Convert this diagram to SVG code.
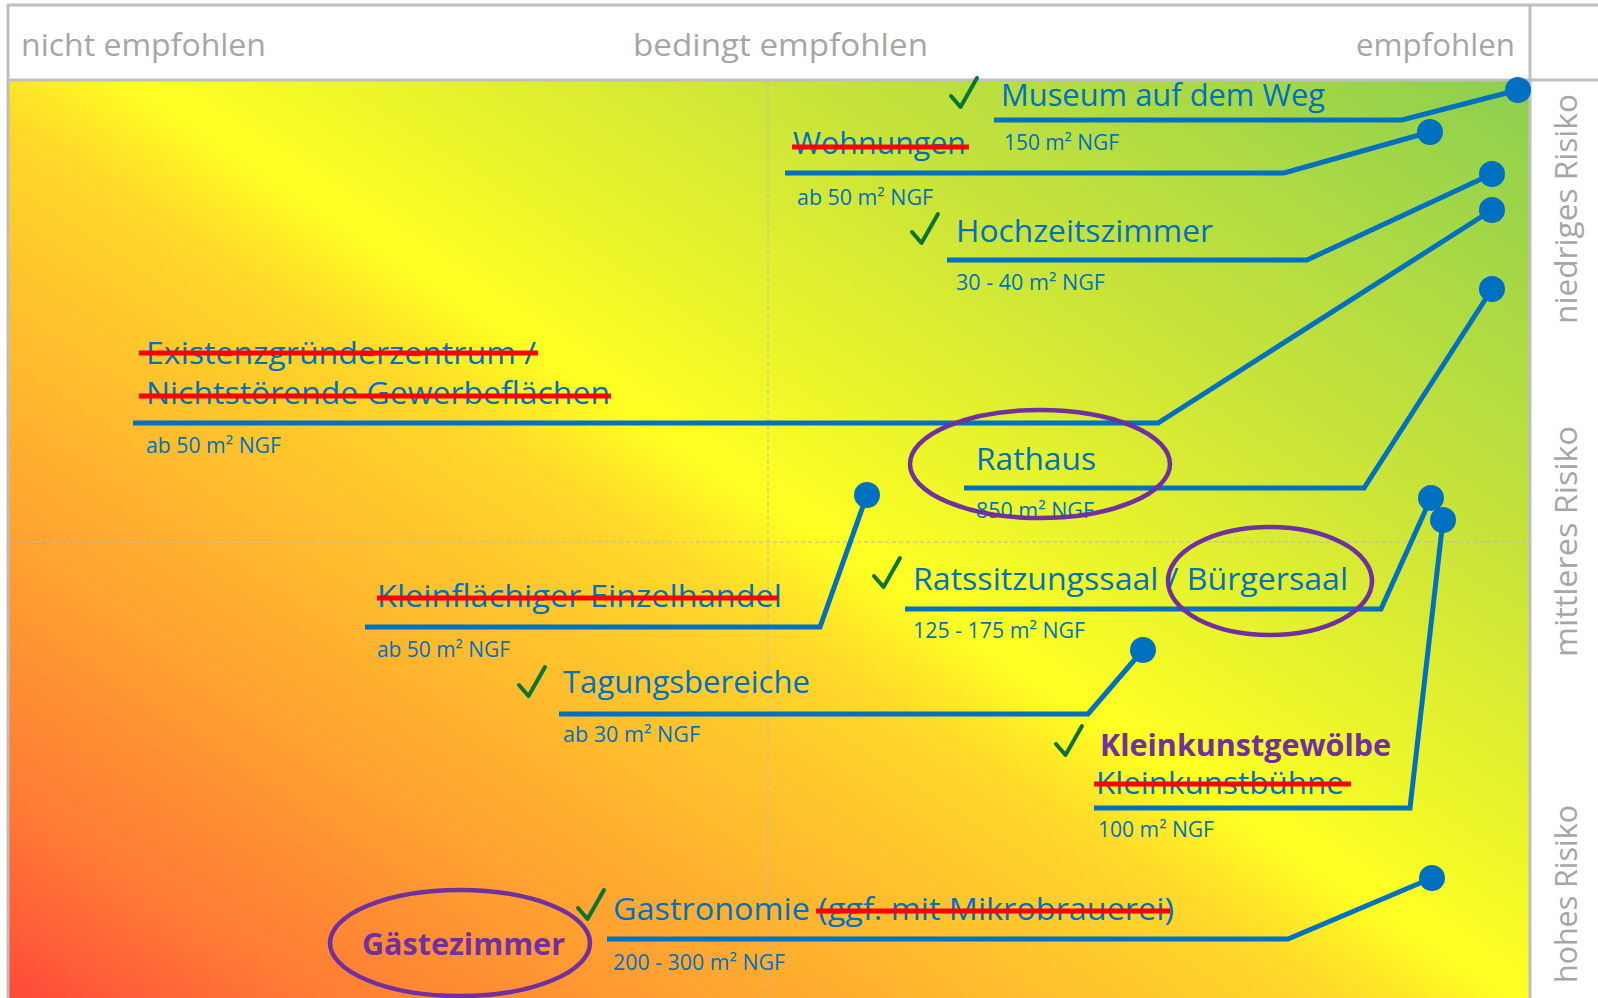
<svg xmlns="http://www.w3.org/2000/svg" xmlns:xlink="http://www.w3.org/1999/xlink" width="1598" height="998" viewBox="0 0 1598 998">
  <defs>
    <linearGradient id="bg" gradientUnits="userSpaceOnUse" x1="339" y1="1216" x2="1223" y2="-120">
      <stop offset="0" stop-color="#ff4a3a"/>
      <stop offset="0.1" stop-color="#ff7a35"/>
      <stop offset="0.25" stop-color="#ffa530"/>
      <stop offset="0.455" stop-color="#ffd82a"/>
      <stop offset="0.52" stop-color="#ffff22"/>
      <stop offset="0.75" stop-color="#c8e33a"/>
      <stop offset="1" stop-color="#8ccf4f"/>
    </linearGradient>
    <path id="chk" d="M0,18 L9.5,29 L26,0" fill="none" stroke="#0a7436" stroke-width="4" stroke-linecap="round" stroke-linejoin="round"/>
  </defs>
  <style>
    .hdr { font-family: "Open Sans", "Noto Sans", sans-serif; font-size: 31px; fill: #a6a6a6; }
    .lbl { font-family: "Open Sans", "Noto Sans", sans-serif; font-size: 31px; fill: #0070c0; }
    .sub { font-family: "Open Sans", "Noto Sans", sans-serif; font-size: 21px; fill: #0070c0; }
    .bold { font-family: "Open Sans", "Noto Sans", sans-serif; font-size: 31px; font-weight: bold; fill: #7030a0; }
    .frame { stroke: #bfbfbf; stroke-width: 3; fill: none; }
    .guide { stroke: #b8b8b8; stroke-width: 1; stroke-dasharray: 4 3; fill: none; }
    .con { stroke: #0070c0; stroke-width: 5; fill: none; stroke-linejoin: miter; }
    .dot { fill: #0070c0; }
    .strike { stroke: #ff0000; stroke-width: 5; }
    .oval { stroke: #7030a0; stroke-width: 4.5; fill: none; }
  </style>

  <rect x="0" y="0" width="1598" height="998" fill="#ffffff"/>
  <!-- plot background -->
  <rect x="8" y="81" width="1522" height="917" fill="url(#bg)"/>
  <!-- guides -->
  <line class="guide" x1="768" y1="82" x2="768" y2="998"/>
  <line class="guide" x1="10" y1="542" x2="1529" y2="542"/>

  <!-- frame -->
  <g id="frame">
    <line class="frame" x1="7" y1="5" x2="1598" y2="5"/>
    <line class="frame" x1="8" y1="4" x2="8" y2="998"/>
    <line class="frame" x1="7" y1="80" x2="1598" y2="80"/>
    <line class="frame" x1="1530" y1="4" x2="1530" y2="998"/>
  </g>

  <!-- axis labels -->
  <g id="axis-top">
    <text class="hdr" x="21" y="56" textLength="245" lengthAdjust="spacingAndGlyphs">nicht empfohlen</text>
    <text class="hdr" x="633" y="56" textLength="295" lengthAdjust="spacingAndGlyphs">bedingt empfohlen</text>
    <text class="hdr" x="1356" y="56" textLength="159" lengthAdjust="spacingAndGlyphs">empfohlen</text>
  </g>
  <g id="axis-right">
    <text class="hdr" transform="translate(1577,324) rotate(-90)" textLength="230" lengthAdjust="spacingAndGlyphs">niedriges Risiko</text>
    <text class="hdr" transform="translate(1577,657) rotate(-90)" textLength="231" lengthAdjust="spacingAndGlyphs">mittleres Risiko</text>
    <text class="hdr" transform="translate(1577,983) rotate(-90)" textLength="178" lengthAdjust="spacingAndGlyphs">hohes Risiko</text>
  </g>

  <!-- connectors -->
  <g id="connectors">
    <polyline class="con" points="994,120 1402,120 1518,90"/>
    <circle class="dot" cx="1518" cy="90" r="13"/>
    <polyline class="con" points="785,173 1284,173 1430,132"/>
    <circle class="dot" cx="1430" cy="132" r="13"/>
    <polyline class="con" points="947,260 1307,260 1492,174"/>
    <circle class="dot" cx="1492" cy="174" r="13"/>
    <polyline class="con" points="133,423 1158,423 1492,210"/>
    <circle class="dot" cx="1492" cy="210" r="13"/>
    <polyline class="con" points="964,488 1364,488 1492,289"/>
    <circle class="dot" cx="1492" cy="289" r="13"/>
    <polyline class="con" points="365,627 820,627 867,495"/>
    <circle class="dot" cx="867" cy="495" r="13"/>
    <polyline class="con" points="905,609 1381,609 1431,498"/>
    <circle class="dot" cx="1431" cy="498" r="13"/>
    <polyline class="con" points="559,714 1088,714 1143,650"/>
    <circle class="dot" cx="1143" cy="650" r="13"/>
    <polyline class="con" points="1094,808 1410,808 1443,520"/>
    <circle class="dot" cx="1443" cy="520" r="13"/>
    <polyline class="con" points="607,939 1288,939 1432,878"/>
    <circle class="dot" cx="1432" cy="878" r="13"/>
  </g>

  <!-- nodes -->
  <g id="node-museum">
    <use href="#chk" x="951" y="78"/>
    <text class="lbl" x="1001" y="106" textLength="324" lengthAdjust="spacingAndGlyphs">Museum auf dem Weg</text>
    <text class="sub" x="1004" y="150" textLength="115" lengthAdjust="spacingAndGlyphs">150 m² NGF</text>
  </g>
  <g id="node-wohnungen">
    <text class="lbl" x="793" y="154" textLength="173" lengthAdjust="spacingAndGlyphs">Wohnungen</text>
    <line class="strike" x1="792" y1="147" x2="969" y2="147"/>
    <text class="sub" x="797" y="205" textLength="136" lengthAdjust="spacingAndGlyphs">ab 50 m² NGF</text>
  </g>
  <g id="node-hochzeitszimmer">
    <use href="#chk" x="912" y="214"/>
    <text class="lbl" x="956" y="242" textLength="257" lengthAdjust="spacingAndGlyphs">Hochzeitszimmer</text>
    <text class="sub" x="956" y="290" textLength="149" lengthAdjust="spacingAndGlyphs">30 - 40 m² NGF</text>
  </g>
  <g id="node-existenz">
    <text class="lbl" x="146" y="364" textLength="390" lengthAdjust="spacingAndGlyphs">Existenzgründerzentrum /</text>
    <line class="strike" x1="139" y1="353" x2="538" y2="353"/>
    <text class="lbl" x="146" y="404" textLength="464" lengthAdjust="spacingAndGlyphs">Nichtstörende Gewerbeflächen</text>
    <line class="strike" x1="139" y1="396" x2="611" y2="396"/>
    <text class="sub" x="146" y="453" textLength="135" lengthAdjust="spacingAndGlyphs">ab 50 m² NGF</text>
  </g>
  <g id="node-rathaus">
    <text class="lbl" x="976" y="470" textLength="120" lengthAdjust="spacingAndGlyphs">Rathaus</text>
    <text class="sub" x="976" y="518" textLength="118" lengthAdjust="spacingAndGlyphs">850 m² NGF</text>
    <ellipse class="oval" cx="1040" cy="464" rx="130" ry="54"/>
  </g>
  <g id="node-einzelhandel">
    <text class="lbl" x="377" y="607" textLength="405" lengthAdjust="spacingAndGlyphs">Kleinflächiger Einzelhandel</text>
    <line class="strike" x1="377" y1="598" x2="778" y2="598"/>
    <text class="sub" x="377" y="657" textLength="133" lengthAdjust="spacingAndGlyphs">ab 50 m² NGF</text>
  </g>
  <g id="node-ratssitzungssaal">
    <use href="#chk" x="874" y="558"/>
    <text class="lbl" x="913" y="590" textLength="435" lengthAdjust="spacingAndGlyphs">Ratssitzungssaal / Bürgersaal</text>
    <text class="sub" x="913" y="638" textLength="172" lengthAdjust="spacingAndGlyphs">125 - 175 m² NGF</text>
    <ellipse class="oval" cx="1270" cy="581" rx="102" ry="54"/>
  </g>
  <g id="node-tagungsbereiche">
    <use href="#chk" x="519" y="667"/>
    <text class="lbl" x="563" y="693" textLength="247" lengthAdjust="spacingAndGlyphs">Tagungsbereiche</text>
    <text class="sub" x="563" y="742" textLength="137" lengthAdjust="spacingAndGlyphs">ab 30 m² NGF</text>
  </g>
  <g id="node-kleinkunst">
    <use href="#chk" x="1056" y="726"/>
    <text class="bold" x="1100" y="756" textLength="291" lengthAdjust="spacingAndGlyphs">Kleinkunstgewölbe</text>
    <text class="lbl" x="1096" y="794" textLength="248" lengthAdjust="spacingAndGlyphs">Kleinkunstbühne</text>
    <line class="strike" x1="1094" y1="784" x2="1351" y2="784"/>
    <text class="sub" x="1098" y="837" textLength="116" lengthAdjust="spacingAndGlyphs">100 m² NGF</text>
  </g>
  <g id="node-gastronomie">
    <use href="#chk" x="578" y="890"/>
    <text class="lbl" x="613" y="920" textLength="561" lengthAdjust="spacingAndGlyphs">Gastronomie (ggf. mit Mikrobrauerei)</text>
    <line class="strike" x1="816" y1="911" x2="1170" y2="911"/>
    <text class="sub" x="613" y="970" textLength="172" lengthAdjust="spacingAndGlyphs">200 - 300 m² NGF</text>
  </g>
  <g id="node-gaestezimmer">
    <ellipse class="oval" cx="460" cy="943" rx="130" ry="53"/>
    <text class="bold" x="362" y="955" textLength="203" lengthAdjust="spacingAndGlyphs">Gästezimmer</text>
  </g>
</svg>
